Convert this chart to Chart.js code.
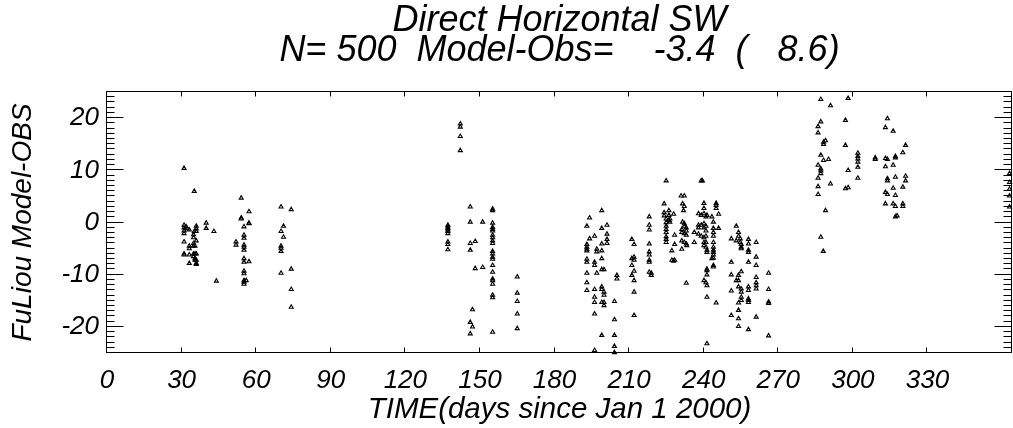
<!DOCTYPE html>
<html><head><meta charset="utf-8">
<script src="https://cdn.jsdelivr.net/npm/chart.js@4"></script>
<style>html,body{margin:0;padding:0;background:#fff;overflow:hidden}</style>
</head><body>
<canvas id="c" width="1013" height="428"></canvas>
<script>
// ---- data: [day of year 2000, FuLiou model - observation (W/m2)] ----
const janMar = [
[31.0,10.4],[35.1,6.0],[31.0,-0.5],[31.0,-1.0],[31.8,-0.8],[32.3,-1.2],[33.1,-1.4],[31.0,-1.6],[31.0,-2.1],
[35.9,-0.7],[35.9,-1.2],[35.9,-1.7],[35.1,-1.7],[34.8,-2.3],[34.8,-2.9],[35.9,-3.5],[31.0,-3.7],
[33.1,-4.5],[33.1,-5.0],[34.8,-4.0],[34.8,-4.5],[35.4,-4.5],[31.0,-6.0],[31.0,-6.2],[33.1,-6.2],
[34.8,-6.0],[35.4,-6.0],[35.9,-6.0],[34.8,-6.5],[35.4,-6.9],[35.9,-7.2],[35.9,-7.8],[35.9,-8.0],
[33.1,-7.8],[35.4,-7.2],[39.9,-0.1],[39.9,-1.1],[43.0,-1.7],[44.0,-11.2],
[54.0,4.7],[57.1,2.1],[54.0,0.9],[54.0,0.7],[57.1,-0.1],[57.1,-0.2],[55.1,-0.8],[55.1,-2.4],[55.1,-3.0],
[51.9,-3.7],[51.9,-4.3],[55.1,-4.3],[55.1,-4.7],[55.1,-5.3],[55.1,-6.9],[55.1,-7.6],[57.1,-7.5],
[55.1,-9.3],[55.1,-9.8],[55.1,-11.1],[55.1,-11.4],[56.0,-11.1],[55.1,-11.8],
[70.0,3.0],[74.1,2.5],[71.0,-0.7],[70.0,-1.7],[71.0,-2.8],[70.0,-4.5],[70.0,-4.9],[70.0,-5.5],
[70.0,-9.7],[74.1,-8.9],[74.1,-12.8],[74.1,-16.2]
];
const mayJun = [
[142.1,18.9],[142.1,18.3],[142.1,16.5],[142.1,13.8],
[137.1,-0.5],[137.1,-0.8],[137.1,-1.1],[137.1,-1.4],[137.1,-1.7],[137.1,-2.1],[137.1,-3.7],[137.1,-4.2],[137.1,-5.2],
[146.1,3.0],[146.1,0.1],[151.1,0.1],[146.1,-4.0],[146.1,-5.3],[148.1,-3.6],[148.1,-8.8],[151.1,-8.6],
[155.1,2.6],[155.1,2.3],[155.1,-0.1],[155.1,-0.9],[155.1,-1.3],[155.1,-1.6],[155.1,-2.4],[155.1,-2.9],
[155.1,-3.5],[155.1,-4.0],[155.1,-5.5],[155.1,-6.0],[155.1,-6.6],[155.1,-7.0],[155.1,-8.2],[155.1,-9.5],
[155.1,-10.8],[155.1,-11.1],[155.1,-11.8],[155.1,-13.9],[155.1,-14.4],[155.1,-21.0],
[147.0,-16.7],[146.1,-19.1],[147.0,-20.0],[146.1,-21.3],
[165.0,-10.4],[165.0,-13.5],[165.0,-15.1],[165.0,-17.5],[165.0,-20.3]
];
const julAug = [
[193.0,-0.7],[194.1,0.9],[193.0,-4.2],[193.0,-4.7],[193.0,-5.1],[193.0,-5.4],[193.0,-7.0],[193.0,-7.6],
[193.0,-9.7],[193.0,-11.5],[193.0,-13.0],[194.1,-3.1],[196.1,-2.6],[196.1,-7.6],[196.1,-8.2],[197.0,-5.1],
[197.0,-5.6],[197.0,-9.7],[196.1,-12.8],[196.1,-14.3],[196.1,-15.3],[196.1,-17.5],
[199.0,2.3],[199.0,-1.1],[199.0,-4.1],[199.0,-5.4],[199.0,-6.9],[199.0,-9.0],[199.9,-9.0],[199.0,-12.3],
[199.0,-12.8],[199.9,-13.3],[199.9,-13.9],[199.0,-15.3],[199.9,-15.3],[199.9,-15.9],
[201.1,-0.5],[201.1,-2.2],[201.1,-3.2],[201.1,-4.0],[199.0,-21.6],[196.1,-24.5],
[204.1,-15.1],[204.1,-18.6],[204.1,-21.6],[204.1,-23.7],[204.1,-24.9],[205.1,-10.1],[205.1,-10.8],
[211.1,-3.2],[212.0,-4.2],[211.1,-6.9],[212.0,-6.6],[212.0,-7.2],[211.1,-8.2],[212.0,-9.3],[211.1,-10.1],
[212.0,-11.1],[212.0,-13.3],[212.0,-17.8],
[218.1,1.1],[218.1,-0.5],[218.1,-1.4],[218.1,-4.1],[218.1,-5.6],[218.1,-6.2],[218.1,-7.2],[218.1,-7.6],
[218.1,-9.5],[218.9,-9.7],[218.9,-10.1],
[224.9,8.0],[224.1,3.6],[224.1,1.9],[224.1,1.3],[224.9,0.7],[224.9,0.0],[226.0,2.3],[226.0,1.4],[226.0,0.4],
[226.4,0.7],[226.4,0.1],[224.9,-0.7],[224.9,-1.3],[224.9,-1.9],[224.9,-2.7],[224.9,-3.2],[224.9,-3.8],
[227.9,1.6],[227.2,-5.4],[227.2,-7.2],[227.9,-7.4],[228.3,-7.2],[228.3,-2.4],[228.3,-4.2],
[230.9,5.1],[232.2,5.1],[231.5,3.6],[232.2,3.1],[231.9,2.3],[231.5,0.1],[232.2,-0.2],[232.2,-0.7],
[233.0,-1.0],[231.2,-1.3],[233.0,-1.6],[232.2,-2.1],[233.0,-2.4],[231.2,-1.9],[231.2,-3.5],[232.2,-3.8],
[233.0,-4.1],[231.2,-5.1],[233.2,-4.4],[233.0,-11.6],[236.2,-1.9],[236.2,-3.8],
[239.0,8.0],[239.5,8.0],[240.1,3.7],[240.1,2.7],[237.9,1.7],[239.0,1.4],[240.1,1.7],[240.9,1.1],[241.3,1.4],
[237.9,-0.5],[239.0,-0.5],[237.9,-1.0],[240.1,-0.2],[240.1,-1.0],[240.9,-0.7],[240.9,-1.6],
[237.9,-2.2],[239.0,-2.6],[240.1,-2.9],[240.9,-2.6],[240.1,-3.8],[240.9,-3.8],[240.1,-4.4],[240.9,-4.7],
[241.3,-5.3],[241.3,-5.7],[241.3,-8.9],[241.3,-9.2],[241.3,-10.0],[240.9,-11.5],[241.3,-12.1],[240.1,-11.1],
[241.3,-14.3],[241.3,-23.2]
];
const augSep = [
[243.3,1.1],[243.9,0.1],[243.9,-1.1],[243.9,-1.9],[243.9,-2.6],[243.9,-3.8],[243.9,-4.7],[243.9,-5.3],
[243.9,-5.7],[243.9,-6.2],[243.9,-6.8],[243.9,-8.2],[243.9,-8.5],[245.0,3.7],[245.0,3.3],[245.0,2.7],
[246.0,1.6],[246.0,-1.1],[245.0,-15.4],[243.3,-6.9],
[253.1,-0.7],[254.0,-1.9],[254.0,-2.6],[251.1,-3.1],[253.1,-3.5],[254.7,-3.1],[254.7,-3.8],[255.1,-4.2],
[255.1,-4.7],[255.1,-5.0],[251.1,-7.6],[251.1,-10.0],[254.0,-10.1],[253.1,-11.1],[254.0,-11.1],[255.1,-9.4],
[254.0,-12.3],[255.1,-12.7],[255.1,-13.3],[251.1,-13.1],[255.1,-14.3],[255.1,-14.9],[254.0,-15.4],[254.0,-16.8],
[251.1,-17.8],[254.0,-18.4],[254.0,-19.9],[258.0,-20.5],
[258.0,-3.2],[258.0,-4.1],[258.0,-5.3],[258.0,-5.7],[258.0,-7.6],[261.1,-3.8],[261.1,-6.6],[261.1,-8.2],
[258.0,-12.3],[258.0,-13.0],[258.0,-14.6],[258.0,-14.9],[258.0,-15.3],[261.1,-10.5],[261.1,-11.5],
[261.1,-12.1],[261.1,-12.7],[261.1,-18.1],
[266.1,-9.7],[266.1,-12.8],[266.1,-15.2],[266.1,-15.5],[266.1,-21.7]
];
const octDec = [
[287.1,23.6],[291.0,22.4],[298.1,23.8],[287.1,19.3],[286.0,18.4],[286.0,17.2],[297.0,19.6],
[289.0,15.7],[288.2,15.4],[288.2,15.0],[297.0,14.8],[287.1,12.9],[288.2,11.9],[290.2,12.1],[286.0,11.0],
[287.1,10.3],[287.1,9.9],[287.1,9.4],[286.0,8.5],[286.0,6.9],[286.0,5.4],[291.0,7.4],[289.0,2.3],
[287.1,-2.8],[288.1,-5.5],[298.1,10.0],[297.0,6.5],[298.1,6.7],
[302.0,13.3],[302.0,12.7],[302.0,12.2],[302.0,11.6],[302.0,10.6],[302.0,8.5],
[309.0,12.4],[309.0,12.1],[313.1,12.3],[313.9,12.1],[317.1,12.7],[317.1,12.4],[320.1,13.4],[321.2,14.8],
[313.9,19.9],[313.1,18.2],[316.2,17.5],[313.1,10.7],[316.2,11.0],[313.9,8.4],[313.9,8.0],[317.1,8.7],
[321.2,8.9],[321.2,8.0],[320.1,6.8],[316.2,6.6],[313.1,5.8],[313.9,5.4],[317.1,5.2],
[313.1,3.6],[316.2,3.6],[317.1,3.1],[320.1,3.6],[320.1,3.1],[317.1,1.1],[317.8,1.3],
[363.0,9.4],[363.0,7.7],[363.0,6.4],[363.0,5.1],[363.0,3.0]
];
const xTicks = [0,30,60,90,120,150,180,210,240,270,300,330];
const yTicks = [-20,-10,0,10,20];
const titleLines = ['Direct Horizontal SW', 'N= 500  Model-Obs=    -3.4  (   8.6)'];
const xTitle = 'TIME(days since Jan 1 2000)';
const yTitle = 'FuLiou Model-OBS';

const FONT = "'Liberation Sans', Arial, Helvetica, sans-serif";
const toPts = arr => arr.map(p => ({x: p[0], y: p[1]}));
const mk = (label, arr) => ({
  label, data: toPts(arr), pointStyle: 'triangle', pointRadius: 2.3, pointBorderWidth: 1.1,
  borderColor: '#000', backgroundColor: 'rgba(0,0,0,0)', showLine: false, clip: false
});

const framePlugin = {
  id: 'frame',
  afterDraw(chart) {
    const {ctx, chartArea: a, scales: {x, y}} = chart;
    const L = a.left - 0.5, R = a.right - 0.5, T = a.top - 0.5, B = a.bottom - 0.5;
    ctx.save();
    ctx.strokeStyle = '#000'; ctx.lineWidth = 1;
    ctx.beginPath();
    ctx.rect(L, T, R - L, B - T);
    xTicks.forEach(v => {
      const px = Math.round(x.getPixelForValue(v)) - 0.5;
      ctx.moveTo(px, B); ctx.lineTo(px, B - 5);
      ctx.moveTo(px, T); ctx.lineTo(px, T + 5);
    });
    for (let v = y.min; v <= y.max; v += 1) {
      const py = Math.round(y.getPixelForValue(v)) - 0.5;
      const len = (v % 10 === 0) ? 17 : 8;
      ctx.moveTo(L, py); ctx.lineTo(L + len, py);
      ctx.moveTo(R, py); ctx.lineTo(R - len, py);
    }
    ctx.stroke();
    ctx.restore();
  }
};

new Chart(document.getElementById('c'), {
  type: 'scatter',
  data: { datasets: [mk('Jan-Mar', janMar), mk('May-Jun', mayJun), mk('Jul-Aug', julAug), mk('Aug-Sep', augSep), mk('Oct-Dec', octDec)] },
  options: {
    responsive: false, animation: false, devicePixelRatio: 1, events: [],
    layout: { padding: { left: 0, right: 1, top: 0, bottom: 0 }, autoPadding: false },
    plugins: {
      legend: { display: false }, tooltip: { enabled: false },
      title: {
        display: true, text: titleLines, fullSize: false, color: '#000',
        font: { family: FONT, size: 36, style: 'italic', weight: 'normal', lineHeight: '30px' },
        padding: { top: 6, bottom: 26 }
      }
    },
    scales: {
      x: {
        type: 'linear', position: 'bottom', min: 0, max: 364,
        afterBuildTicks: s => { s.ticks = xTicks.map(v => ({ value: v })); },
        afterFit: s => { s.height = 75; },
        grid: { display: false, drawTicks: false }, border: { display: false },
        ticks: { color: '#000', padding: 12, maxRotation: 0, autoSkip: false, callback: v => String(v),
                 font: { family: FONT, size: 26, style: 'italic' } },
        title: { display: true, text: xTitle, color: '#000', padding: { top: 0, bottom: 1 },
                 font: { family: FONT, size: 29.5, style: 'italic' } }
      },
      y: {
        type: 'linear', position: 'left', min: -25, max: 25,
        afterBuildTicks: s => { s.ticks = yTicks.map(v => ({ value: v })); },
        afterFit: s => { s.width = 107; },
        grid: { display: false, drawTicks: false }, border: { display: false },
        ticks: { color: '#000', padding: 8, autoSkip: false, callback: v => String(v),
                 font: { family: FONT, size: 26, style: 'italic' } },
        title: { display: true, text: yTitle, color: '#000', padding: { top: 6, bottom: 0 },
                 font: { family: FONT, size: 28, style: 'italic' } }
      }
    }
  },
  plugins: [framePlugin]
});
</script>
</body></html>
